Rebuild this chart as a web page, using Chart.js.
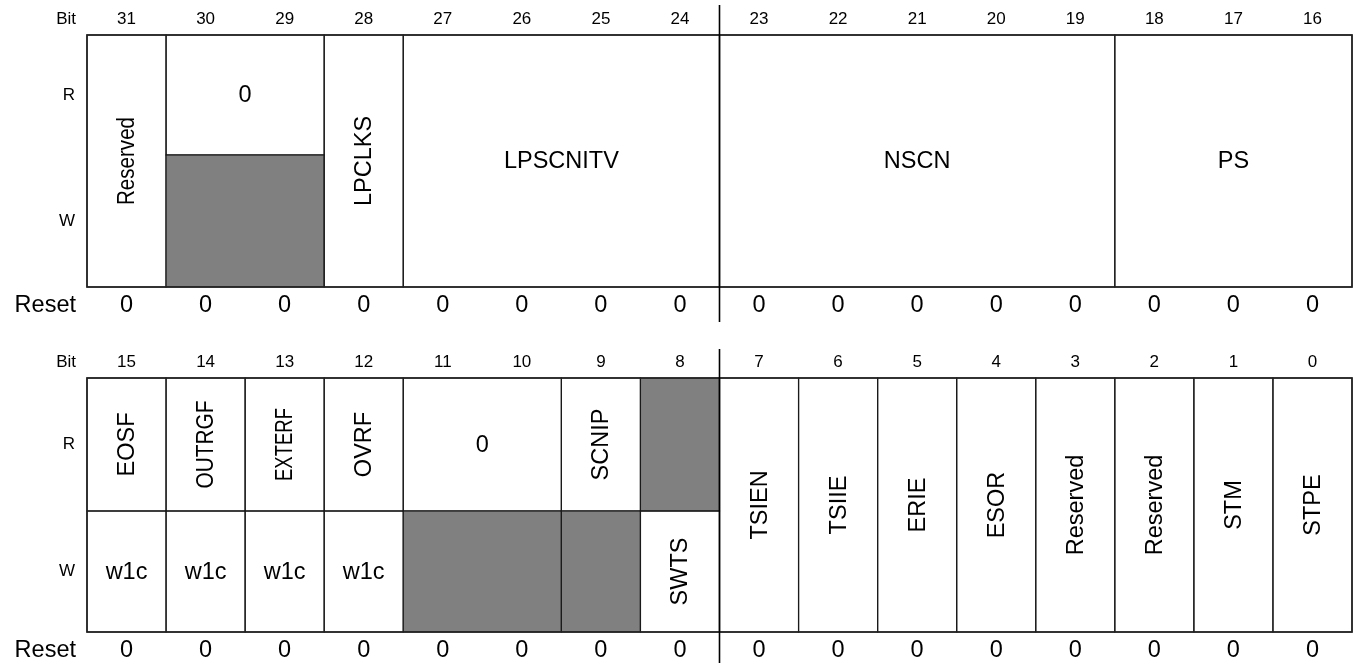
<!DOCTYPE html>
<html>
<head>
<meta charset="utf-8">
<script src="https://cdn.jsdelivr.net/npm/chart.js@4/dist/chart.umd.min.js"></script>
<style>
  html, body { margin: 0; padding: 0; background: #fff; }
  canvas { display: block; }
</style>
</head>
<body>
<canvas id="reg-chart" width="1354" height="663"></canvas>
<script>
// REGISTER DATA (bits 31..16 on top, 15..0 below)
var topBits = [31, 30, 29, 28, 27, 26, 25, 24, 23, 22, 21, 20, 19, 18, 17, 16];
var topReset = [0, 0, 0, 0, 0, 0, 0, 0, 0, 0, 0, 0, 0, 0, 0, 0];
var topText = ["Reserved", "0", null, "LPCLKS", "LPSCNITV", "NSCN", "PS"];
var topMsb = [31, 30, 30, 28, 27, 23, 18];
var topLsb = [31, 29, 29, 28, 24, 19, 16];
var topRows = ["RW", "R", "W", "RW", "RW", "RW", "RW"];

var bottomBits = [15, 14, 13, 12, 11, 10, 9, 8, 7, 6, 5, 4, 3, 2, 1, 0];
var bottomReset = [0, 0, 0, 0, 0, 0, 0, 0, 0, 0, 0, 0, 0, 0, 0, 0];
var bottomText = ["EOSF", "w1c", "OUTRGF", "w1c", "EXTERF", "w1c", "OVRF", "w1c",
  "0", null, "SCNIP", null, null, "SWTS",
  "TSIEN", "TSIIE", "ERIE", "ESOR", "Reserved", "Reserved", "STM", "STPE"];
var bottomMsb = [15, 15, 14, 14, 13, 13, 12, 12, 11, 11, 9, 9, 8, 8, 7, 6, 5, 4, 3, 2, 1, 0];
var bottomLsb = [15, 15, 14, 14, 13, 13, 12, 12, 10, 10, 9, 9, 8, 8, 7, 6, 5, 4, 3, 2, 1, 0];
var bottomRows = ["R", "W", "R", "W", "R", "W", "R", "W", "R", "W", "R", "W", "R", "W",
  "RW", "RW", "RW", "RW", "RW", "RW", "RW", "RW"];

// vertical layout in y-scale units
var topLayout = { bitY: 19, top: 35, split: 155, bottom: 287, resetY: 306, divTop: 5, divBottom: 322 };
var bottomLayout = { bitY: 362, top: 378, split: 511, bottom: 632, resetY: 651, divTop: 349, divBottom: 663 };

// some long names are squeezed in the original
var squeeze = { 31: 88, 14: 88, 13: 73 };

var FONT = '"Liberation Sans", Arial, Helvetica, sans-serif';
var GRAY = "#808080";

var halves = [
  { bits: topBits, reset: topReset, text: topText, msb: topMsb, lsb: topLsb, rows: topRows, lay: topLayout },
  { bits: bottomBits, reset: bottomReset, text: bottomText, msb: bottomMsb, lsb: bottomLsb, rows: bottomRows, lay: bottomLayout },
];

var registerPlugin = {
  id: "register",
  afterDraw: function (chart) {
    var ctx = chart.ctx;
    var x = chart.scales.x;
    var y = chart.scales.y;

    halves.forEach(function (h) {
      var base = h.bits[0];
      var L = h.lay;
      var yTop = y.getPixelForValue(L.top);
      var ySplit = y.getPixelForValue(L.split);
      var yBot = y.getPixelForValue(L.bottom);
      var xLeft = x.getPixelForValue(0);
      var xRight = x.getPixelForValue(16);

      ctx.save();
      ctx.fillStyle = "#000";
      ctx.textBaseline = "middle";

      // left labels
      ctx.textAlign = "right";
      ctx.font = "17px " + FONT;
      ctx.fillText("Bit", xLeft - 11, y.getPixelForValue(L.bitY));
      ctx.fillText("R", xLeft - 12, (yTop + ySplit) / 2);
      ctx.fillText("W", xLeft - 12, (ySplit + yBot) / 2);
      ctx.font = "23.5px " + FONT;
      ctx.fillText("Reset", xLeft - 11, y.getPixelForValue(L.resetY));

      // bit numbers and reset values
      ctx.textAlign = "center";
      h.bits.forEach(function (b, i) {
        var cx = x.getPixelForValue(i + 0.5);
        ctx.font = "17px " + FONT;
        ctx.fillText(String(b), cx, y.getPixelForValue(L.bitY));
        ctx.font = "23.5px " + FONT;
        ctx.fillText(String(h.reset[i]), cx, y.getPixelForValue(L.resetY));
      });

      // cells
      h.text.forEach(function (t, k) {
        var l = x.getPixelForValue(base - h.msb[k]);
        var r = x.getPixelForValue(base - h.lsb[k] + 1);
        var row = h.rows[k];
        var t0 = row === "W" ? ySplit : yTop;
        var t1 = row === "R" ? ySplit : yBot;
        if (t === null) {
          ctx.fillStyle = GRAY;
          ctx.fillRect(l, t0, r - l, t1 - t0);
        }
        ctx.strokeStyle = "#1a1a1a";
        ctx.lineWidth = 1.2;
        ctx.strokeRect(l, t0, r - l, t1 - t0);

        if (t === null) return;
        ctx.fillStyle = "#000";
        ctx.font = "23.5px " + FONT;
        var cx = (l + r) / 2;
        var cy = (t0 + t1) / 2;
        var maxW = squeeze[h.msb[k]];
        if (h.msb[k] === h.lsb[k] && t !== "w1c") {
          ctx.save();
          ctx.translate(cx, cy);
          ctx.rotate(-Math.PI / 2);
          if (maxW) ctx.fillText(t, 0, 1, maxW);
          else ctx.fillText(t, 0, 1);
          ctx.restore();
        } else {
          ctx.fillText(t, cx, cy + 1);
        }
      });

      // outer box
      ctx.strokeStyle = "#222";
      ctx.lineWidth = 1.6;
      ctx.strokeRect(xLeft, yTop, xRight - xLeft, yBot - yTop);

      // byte divider
      var xd = x.getPixelForValue(8);
      ctx.strokeStyle = "#000";
      ctx.lineWidth = 1.6;
      ctx.beginPath();
      ctx.moveTo(xd, y.getPixelForValue(L.divTop));
      ctx.lineTo(xd, y.getPixelForValue(L.divBottom));
      ctx.stroke();
      ctx.restore();
    });
  },
};

var ctx = document.getElementById("reg-chart").getContext("2d");
var myRegChart = new Chart(ctx, {
  type: "scatter",
  data: { datasets: [] },
  options: {
    responsive: false,
    animation: false,
    layout: { padding: { left: 87, right: 2, top: 0, bottom: 0 } },
    plugins: {
      legend: { display: false },
      tooltip: { enabled: false },
      title: { display: false },
    },
    scales: {
      x: { type: "linear", min: 0, max: 16, display: false },
      y: { type: "linear", min: 0, max: 663, reverse: true, display: false },
    },
  },
  plugins: [registerPlugin],
});
</script>
</body>
</html>
